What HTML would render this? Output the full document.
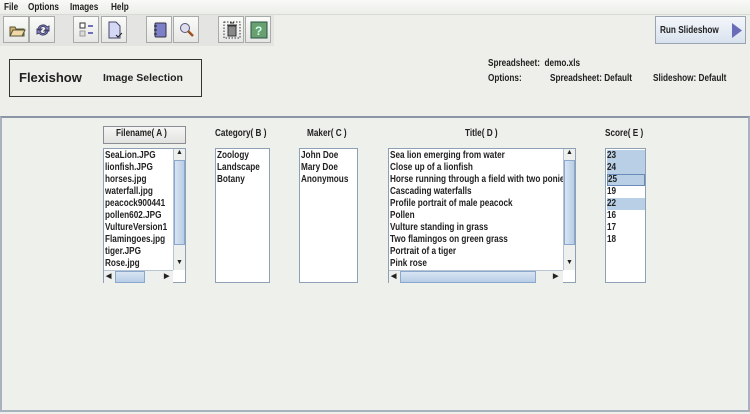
<!DOCTYPE html>
<html><head><meta charset="utf-8"><style>
*{margin:0;padding:0;box-sizing:border-box}
body{width:750px;height:414px;background:#eeefea;font-family:"Liberation Sans",sans-serif;font-size:10px;font-weight:bold;color:#222;position:relative;overflow:hidden}
.a{position:absolute}
.s{display:inline-block;transform:scaleX(.82);transform-origin:0 0;white-space:nowrap}
.menu{top:0;left:0;width:750px;height:15px;background:linear-gradient(#fafaf8,#eceee9);border-bottom:1px solid #d8dad6}
.menu span.s{position:absolute;top:2px;font-size:10px}
.tb{top:15px;left:0;width:274px;height:31px;background:#e4e5e2}
.btn{position:absolute;top:16px;width:26px;height:27px;border:1px solid #a8aca8;background:linear-gradient(#fbfbfa,#e6e7e4)}
.btn svg{position:absolute;left:4px;top:4px}
.list{position:absolute;top:148px;height:135px;background:#fff;border:1px solid #8fa0b4}
.row{position:absolute;left:1px;height:12px;line-height:12px;white-space:nowrap;overflow:hidden;font-size:10px}
.hdr{position:absolute;top:128px;font-size:9.5px}
.vs{position:absolute;top:0;width:12px;background:#eef0ee;border-left:1px solid #b8c4d2}
.hs{position:absolute;left:0;height:13px;background:#eef0ee;border-top:1px solid #b8c4d2}
.thumbv{position:absolute;left:0;width:11px;background:linear-gradient(90deg,#d8e4f2,#b8cde6);border:1px solid #8aa8cc}
.thumbh{position:absolute;top:0;height:12px;background:linear-gradient(#d8e4f2,#b8cde6);border:1px solid #8aa8cc}
.sel{background:#b8cfe5}
</style></head><body>
<div class="a menu"><span class="s" style="left:4px">File</span><span class="s" style="left:28px">Options</span><span class="s" style="left:70px">Images</span><span class="s" style="left:111px">Help</span></div>
<div class="a tb"></div>
<div class="btn" style="left:3px"><svg width="18" height="18"><path d="M2 6h5l1 2h8v7H2z" fill="#d8b070" stroke="#553"/><path d="M2 15l3-6h12l-3 6z" fill="#f0d8a8" stroke="#553"/></svg></div>
<div class="btn" style="left:29px"><svg width="18" height="18"><path d="M4 9a5 5 0 0 1 9-3l2-1v5h-5l2-2a3 3 0 0 0-6 1z M14 9a5 5 0 0 1-9 3l-2 1v-5h5l-2 2a3 3 0 0 0 6-1z" fill="#8a8ad8" stroke="#446"/></svg></div>
<div class="btn" style="left:73px"><svg width="18" height="18"><rect x="2" y="2" width="5" height="5" fill="#fff" stroke="#333"/><rect x="2" y="10" width="5" height="5" fill="#ddd" stroke="#999"/><path d="M10 5h5M10 12h5" stroke="#44a" stroke-width="1.5"/></svg></div>
<div class="btn" style="left:101px"><svg width="18" height="18"><path d="M3 1h7l4 4v12H3z" fill="#d4d8f4" stroke="#446"/><path d="M10 14l2 2 4-4" stroke="#222" fill="none"/></svg></div>
<div class="btn" style="left:146px"><svg width="18" height="18"><rect x="4" y="2" width="11" height="14" rx="1" fill="#7c80c8" stroke="#334"/><path d="M3 5h3M3 9h3M3 13h3" stroke="#222"/></svg></div>
<div class="btn" style="left:173px"><svg width="18" height="18"><circle cx="7" cy="7" r="4.5" fill="#dde" stroke="#557"/><path d="M10 10l5 5" stroke="#a05020" stroke-width="2.5"/></svg></div>
<div class="btn" style="left:218px"><svg width="18" height="18"><rect x="1" y="1" width="16" height="16" fill="none" stroke="#333" stroke-dasharray="1.5 1.5"/><rect x="5" y="5" width="8" height="10" fill="#888" stroke="#333"/><path d="M4 4h10M7 2h4" stroke="#333"/></svg></div>
<div class="btn" style="left:245px"><svg width="18" height="18"><rect x="1" y="1" width="16" height="16" fill="#6aa070" stroke="#254"/><text x="5" y="14" font-size="12" fill="#cfe" font-family="Liberation Sans">?</text></svg></div>
<div class="a" style="left:655px;top:16px;width:91px;height:28px;border:1px solid #9aa4b0;background:linear-gradient(#f4f7fb,#d8e2ee)"><span class="a s" style="left:4px;top:8px;font-size:10px">Run Slideshow</span><svg class="a" style="left:75px;top:5px" width="12" height="17"><path d="M1 1l10 7.5L1 16z" fill="#6a6cb8"/></svg></div>
<div class="a" style="left:9px;top:59px;width:193px;height:38px;border:1px solid #333;background:#eeefea"><span class="a" style="left:9px;top:10px;font-size:13px">Flexishow</span><span class="a" style="left:93px;top:12px;font-size:10.5px">Image Selection</span></div>
<div class="a s" style="left:488px;top:58px;font-size:10px">Spreadsheet:&nbsp; demo.xls</div>
<div class="a s" style="left:488px;top:73px;font-size:10px">Options:</div>
<div class="a s" style="left:550px;top:73px;font-size:10px">Spreadsheet: Default</div>
<div class="a s" style="left:653px;top:73px;font-size:10px">Slideshow: Default</div>
<div class="a" style="left:0;top:116px;width:750px;height:296px;border:2px solid #a8b2be;border-top-color:#8a96a6;background:#eef0eb"></div>
<div class="a" style="left:103px;top:126px;width:83px;height:18px;border:1px solid #8a8e94;background:linear-gradient(#f6f6f4,#e2e3e0)"></div>
<div class="hdr s" style="left:116px;font-size:10px">Filename( A )</div>
<div class="hdr s" style="left:215px;font-size:10px">Category( B )</div>
<div class="hdr s" style="left:307px;font-size:10px">Maker( C )</div>
<div class="hdr s" style="left:465px;font-size:10px">Title( D )</div>
<div class="hdr s" style="left:605px;font-size:10px">Score( E )</div>

<div class="list" style="left:103px;width:83px">
<div class="row" style="top:1px"><span class="s">SeaLion.JPG</span></div><div class="row" style="top:13px"><span class="s">lionfish.JPG</span></div><div class="row" style="top:25px"><span class="s">horses.jpg</span></div><div class="row" style="top:37px"><span class="s">waterfall.jpg</span></div><div class="row" style="top:49px"><span class="s">peacock900441</span></div><div class="row" style="top:61px"><span class="s">pollen602.JPG</span></div><div class="row" style="top:73px;width:68px"><span class="s">VultureVersion1</span></div><div class="row" style="top:85px"><span class="s">Flamingoes.jpg</span></div><div class="row" style="top:97px"><span class="s">tiger.JPG</span></div><div class="row" style="top:109px"><span class="s">Rose.jpg</span></div>
<div class="vs" style="left:69px;height:121px"><div class="thumbv" style="top:11px;height:85px"></div><span class="a" style="left:2px;top:0;font-size:7px">▲</span><span class="a" style="left:2px;top:110px;font-size:7px">▼</span></div>
<div class="hs" style="top:121px;width:69px"><div class="thumbh" style="left:11px;width:30px"></div><span class="a" style="left:2px;top:1px;font-size:7px">◀</span><span class="a" style="left:60px;top:1px;font-size:7px">▶</span></div>
</div>
<div class="list" style="left:215px;width:55px"><div class="row" style="top:1px"><span class="s">Zoology</span></div><div class="row" style="top:13px"><span class="s">Landscape</span></div><div class="row" style="top:25px"><span class="s">Botany</span></div></div>
<div class="list" style="left:299px;width:59px"><div class="row" style="top:1px"><span class="s">John Doe</span></div><div class="row" style="top:13px"><span class="s">Mary Doe</span></div><div class="row" style="top:25px"><span class="s">Anonymous</span></div></div>
<div class="list" style="left:388px;width:188px">
<div class="row" style="top:1px"><span class="s">Sea lion emerging from water</span></div><div class="row" style="top:13px"><span class="s">Close up of a lionfish</span></div><div class="row" style="top:25px;width:173px"><span class="s">Horse running through a field with two ponies</span></div><div class="row" style="top:37px"><span class="s">Cascading waterfalls</span></div><div class="row" style="top:49px"><span class="s">Profile portrait of male peacock</span></div><div class="row" style="top:61px"><span class="s">Pollen</span></div><div class="row" style="top:73px"><span class="s">Vulture standing in grass</span></div><div class="row" style="top:85px"><span class="s">Two flamingos on green grass</span></div><div class="row" style="top:97px"><span class="s">Portrait of a tiger</span></div><div class="row" style="top:109px"><span class="s">Pink rose</span></div>
<div class="vs" style="left:174px;height:121px"><div class="thumbv" style="top:11px;height:85px"></div><span class="a" style="left:2px;top:0;font-size:7px">▲</span><span class="a" style="left:2px;top:110px;font-size:7px">▼</span></div>
<div class="hs" style="top:121px;width:174px"><div class="thumbh" style="left:11px;width:136px"></div><span class="a" style="left:2px;top:1px;font-size:7px">◀</span><span class="a" style="left:164px;top:1px;font-size:7px">▶</span></div>
</div>
<div class="list" style="left:605px;width:41px">
<div class="row sel" style="top:1px;width:38px"><span class="s">23</span></div><div class="row sel" style="top:13px;width:38px"><span class="s">24</span></div><div class="row sel" style="top:25px;width:38px;border:1px solid #6a8ab8;line-height:10px"><span class="s">25</span></div><div class="row" style="top:37px"><span class="s">19</span></div><div class="row sel" style="top:49px;width:38px"><span class="s">22</span></div><div class="row" style="top:61px"><span class="s">16</span></div><div class="row" style="top:73px"><span class="s">17</span></div><div class="row" style="top:85px"><span class="s">18</span></div>
</div>
</body></html>
